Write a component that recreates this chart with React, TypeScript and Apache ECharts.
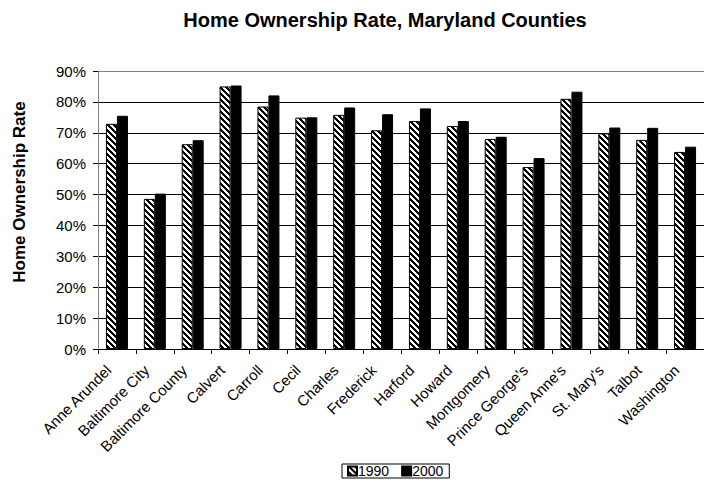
import React, { useEffect, useRef } from "react";
import * as echarts from "echarts";

const categories = [
  "Anne Arundel",
  "Baltimore City",
  "Baltimore County",
  "Calvert",
  "Carroll",
  "Cecil",
  "Charles",
  "Frederick",
  "Harford",
  "Howard",
  "Montgomery",
  "Prince George's",
  "Queen Anne's",
  "St. Mary's",
  "Talbot",
  "Washington",
];
const values1990 = [72.9, 48.6, 66.3, 85.0, 78.5, 74.9, 75.8, 70.8, 73.8, 72.2, 68.0, 58.9, 81.0, 69.8, 67.7, 63.8];
const values2000 = [75.5, 50.3, 67.6, 85.3, 82.1, 75.0, 78.2, 76.0, 77.9, 73.8, 68.7, 61.8, 83.3, 71.7, 71.6, 65.5];
const seriesNames = ["1990", "2000"];
const yTicks = { min: 0, max: 90, interval: 10 };
const titleText = "Home Ownership Rate, Maryland Counties";
const yAxisTitle = "Home Ownership Rate";

function makeHatch(): HTMLCanvasElement {
  const size = 6;
  const c = document.createElement("canvas");
  c.width = size;
  c.height = size;
  const ctx = c.getContext("2d")!;
  ctx.fillStyle = "#ffffff";
  ctx.fillRect(0, 0, size, size);
  ctx.fillStyle = "#000000";
  for (let y = 0; y < size; y++) {
    for (let x = 0; x < size; x++) {
      const d = (((x - y) % size) + size) % size;
      if (d < 3) ctx.fillRect(x, y, 1, 1);
    }
  }
  return c;
}

export default function App() {
  const ref = useRef<HTMLDivElement>(null);
  useEffect(() => {
    if (!ref.current) return;
    const chart = echarts.init(ref.current, undefined, { renderer: "svg" });
    const hatch = makeHatch();
    const font = "'Liberation Sans', Arial, sans-serif";
    const gridColors = ["#000", "#000", "#000", "#000", "#000", "#000", "#000", "#000", "#000", "#808080"];
    chart.setOption({
      animation: false,
      backgroundColor: "#ffffff",
      textStyle: { fontFamily: font },
      title: {
        text: titleText,
        left: 380,
        top: 5,
        textAlign: "center",
        textStyle: { fontFamily: font, fontSize: 20, fontWeight: "bold", color: "#000" },
      },
      graphic: [
        {
          type: "text",
          x: 19,
          y: 192,
          rotation: Math.PI / 2,
          style: {
            text: yAxisTitle,
            fontFamily: font,
            fontSize: 17,
            fontWeight: "bold",
            fill: "#000",
            textAlign: "center",
            textVerticalAlign: "middle",
          },
        },
      ],
      legend: {
        data: seriesNames,
        left: 342,
        top: 464,
        orient: "horizontal",
        itemWidth: 9,
        itemHeight: 9,
        itemGap: 12,
        padding: [0, 6, 0, 5],
        borderColor: "#000",
        borderWidth: 1,
        borderRadius: 0,
        icon: "rect",
        textStyle: { fontFamily: font, fontSize: 14, color: "#000", padding: [0, 0, 0, -4] },
      },
      grid: { left: 98, top: 71, width: 608, bottom: 146, containLabel: false },
      xAxis: {
        type: "category",
        data: categories,
        boundaryGap: true,
        axisLine: { show: true, lineStyle: { color: "#000", width: 1 } },
        axisTick: { show: true, inside: false, length: 5, alignWithLabel: false, lineStyle: { color: "#000" } },
        axisLabel: {
          rotate: 45,
          interval: 0,
          fontFamily: font,
          fontSize: 15,
          color: "#000",
          margin: 10,
          padding: [0, 12, 0, 0],
        },
      },
      yAxis: {
        type: "value",
        min: yTicks.min,
        max: yTicks.max,
        interval: yTicks.interval,
        axisLine: { show: true, lineStyle: { color: "#808080", width: 1 } },
        axisTick: { show: true, inside: false, length: 5, lineStyle: { color: "#000" } },
        axisLabel: {
          formatter: "{value}%",
          fontFamily: font,
          fontSize: 15,
          color: "#000",
          margin: 12,
        },
        splitLine: { show: true, lineStyle: { color: gridColors, width: 1 } },
      },
      series: [
        {
          name: seriesNames[0],
          type: "bar",
          data: values1990,
          barWidth: 11,
          barGap: "0%",
          itemStyle: {
            color: { image: hatch, repeat: "repeat" },
            borderColor: "#000",
            borderWidth: 1,
          },
        },
        {
          name: seriesNames[1],
          type: "bar",
          data: values2000,
          barWidth: 11,
          barGap: "0%",
          itemStyle: { color: "#000", borderColor: "#000", borderWidth: 1 },
        },
      ],
    });
    return () => chart.dispose();
  }, []);
  return <div ref={ref} style={{ width: 704, height: 495, position: "absolute", left: 0, top: 0 }} />;
}
